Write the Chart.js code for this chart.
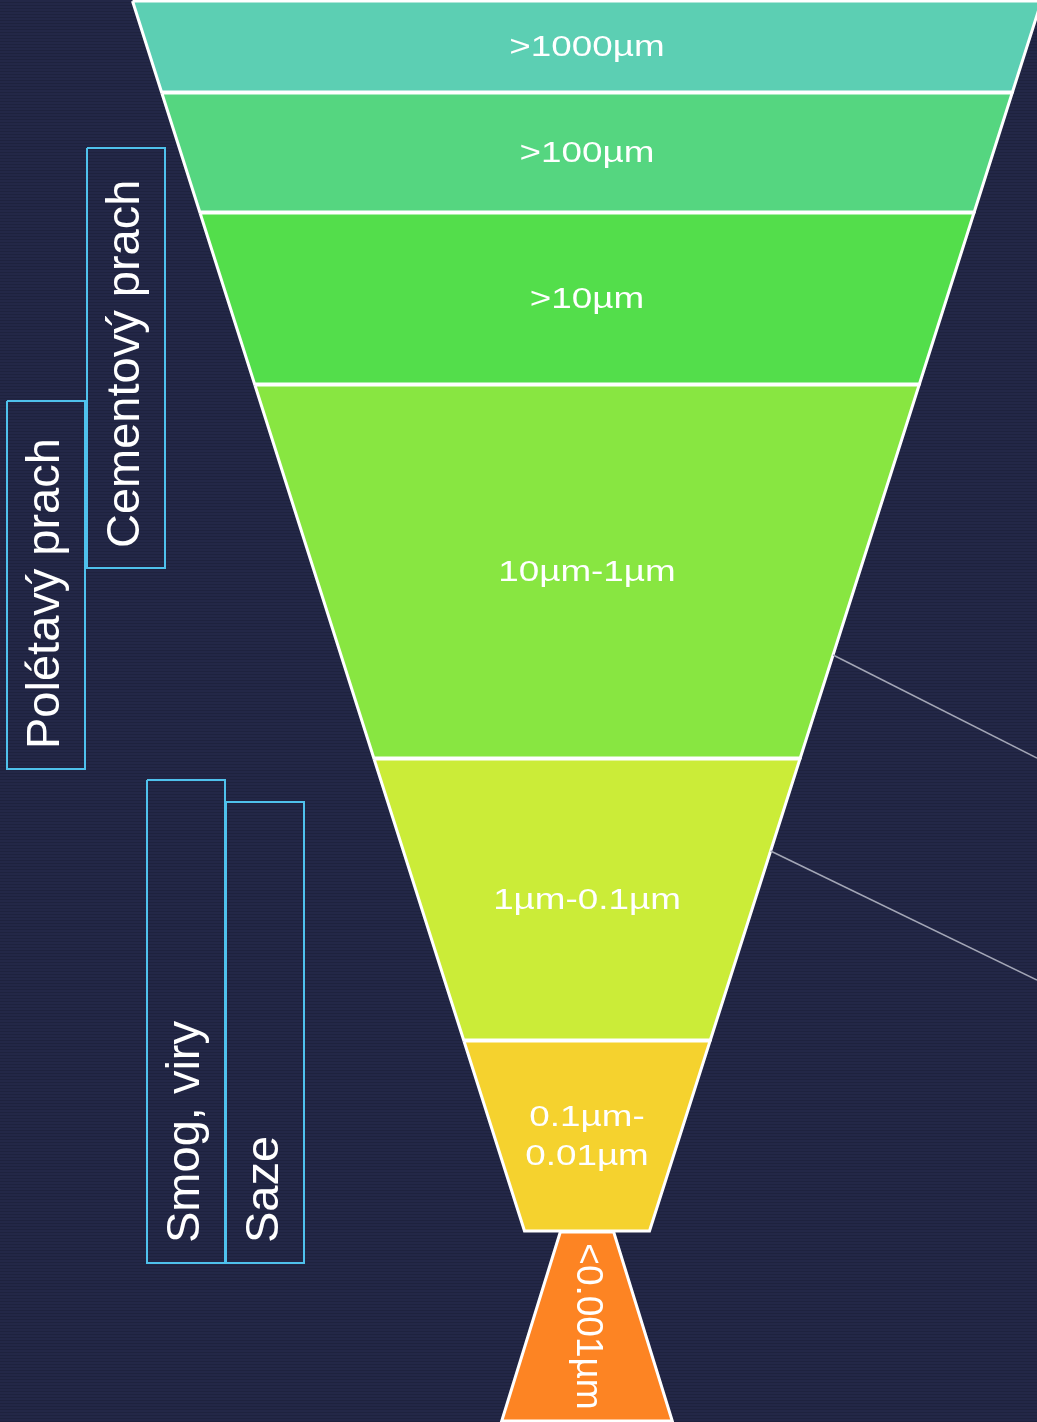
<!DOCTYPE html>
<html>
<head>
<meta charset="utf-8">
<title>Velikost částic prachu</title>
<script src="https://cdn.jsdelivr.net/npm/chart.js@4.4.1/dist/chart.umd.min.js"></script>
<style>
  html, body { margin: 0; padding: 0; overflow: hidden; }
  body {
    width: 1037px;
    height: 1422px;
    background: repeating-linear-gradient(to bottom, #232747 0px, #232747 2px, #1e223e 2px, #1e223e 3px);
  }
  #wrap { position: relative; width: 1037px; height: 1422px; }
</style>
</head>
<body>
<div id="wrap"><canvas id="funnelChart"></canvas></div>
<script>
// velikostni tridy castic (od nejvetsich po nejmensi)
const sizeClasses = ['>1000µm', '>100µm', '>10µm', '10µm-1µm', '1µm-0.1µm', ['0.1µm-', '0.01µm'], '<0.001µm'];
// vyska jednotlivych vrstev trychtyre
const sliceValues = [92, 120, 172, 374, 282, 191, 190];
const sliceColors = ['#5ccfb3', '#55d680', '#53de4b', '#88e641', '#cbec38', '#f5d22e', '#fd8423'];

// skupiny castic a rozsah na ose trychtyre
const groupLabels = ['Polétavý prach', 'Cementový prach', 'Smog, viry', 'Saze'];
const groupFrom = [401, 148, 780, 802];
const groupTo = [769, 568, 1263, 1263];

// spojovaci cary vpravo (odkud -> kam na ose)
const connectorFrom = [655, 851];
const connectorTo = [758, 980];

// --- rozlozeni ---
const X_MIN = -587, X_MAX = 450;
const groupColumns = [-580, -500, -440, -361]; // leve okraje ramecku
const groupWidth = 78;
const lastIdx = sliceValues.length - 1;

function funnelHalf(v) { return 62.5 + (1231 - v) * 0.3187; }
function tailHalf(v) { return 27 + (v - 1233) * 0.31; }

let pos = 1;
const sliceBounds = sliceValues.map(v => {
    const b = [pos, pos + v - 1];
    pos += v;
    return b;
});

const datasets = [];

// spojovaci cary
connectorFrom.forEach((v, i) => {
    datasets.push({
        data: [{x: funnelHalf(v), y: v}, {x: X_MAX, y: connectorTo[i]}],
        showLine: true,
        borderColor: '#a3a6b6',
        borderWidth: 1.5,
        pointRadius: 0,
        fill: false
    });
});

// vrstvy trychtyre
sliceBounds.forEach((b, i) => {
    const half = i === lastIdx ? tailHalf : funnelHalf;
    const top = half(b[0]);
    const bot = half(b[1]);
    datasets.push({
        data: [
            {x: -top, y: b[0]}, {x: top, y: b[0]},
            {x: bot, y: b[1]}, {x: -bot, y: b[1]},
            {x: -top, y: b[0]}
        ],
        showLine: true,
        fill: 'shape',
        backgroundColor: sliceColors[i],
        borderColor: '#ffffff',
        borderWidth: 3,
        borderJoinStyle: 'miter',
        pointRadius: 0,
        tension: 0
    });
});

// ramecky skupin
groupLabels.forEach((g, i) => {
    const l = groupColumns[i], r = l + groupWidth;
    datasets.push({
        data: [
            {x: l, y: groupFrom[i]}, {x: r, y: groupFrom[i]},
            {x: r, y: groupTo[i]}, {x: l, y: groupTo[i]},
            {x: l, y: groupFrom[i]}
        ],
        showLine: true,
        fill: false,
        borderColor: '#4fc1ec',
        borderWidth: 2,
        borderJoinStyle: 'miter',
        pointRadius: 0
    });
});

const textPlugin = {
    id: 'funnelText',
    afterDatasetsDraw(chart) {
        const {ctx, scales: {x, y}} = chart;
        ctx.save();
        ctx.fillStyle = '#ffffff';
        ctx.textBaseline = 'middle';

        // popisky vrstev
        sliceBounds.forEach((b, i) => {
            const cx = x.getPixelForValue(0);
            const cy = y.getPixelForValue((b[0] + b[1]) / 2);
            const text = sizeClasses[i];
            if (i === lastIdx) {
                ctx.save();
                ctx.font = '37px "Liberation Sans", Arial, sans-serif';
                ctx.textAlign = 'center';
                ctx.translate(cx, cy);
                ctx.rotate(Math.PI / 2);
                ctx.fillText(text, 0, 0);
                ctx.restore();
                return;
            }
            const lines = Array.isArray(text) ? text : [text];
            ctx.font = '29px "Liberation Sans", Arial, sans-serif';
            ctx.textAlign = 'center';
            lines.forEach((line, k) => {
                const ly = cy + 1 + (k - (lines.length - 1) / 2) * 39;
                ctx.save();
                ctx.translate(cx, ly);
                ctx.scale(1.27, 1);
                ctx.fillText(line, 0, 0);
                ctx.restore();
            });
        });

        // popisky skupin
        ctx.font = '47px "Liberation Sans", Arial, sans-serif';
        ctx.textAlign = 'left';
        groupLabels.forEach((g, i) => {
            const gx = x.getPixelForValue(groupColumns[i] + groupWidth / 2);
            const gy = y.getPixelForValue(groupTo[i]) - 20;
            ctx.save();
            ctx.translate(gx, gy);
            ctx.rotate(-Math.PI / 2);
            ctx.fillText(g, 0, 0);
            ctx.restore();
        });
        ctx.restore();
    }
};

const chart = new Chart(document.getElementById('funnelChart'), {
    type: 'scatter',
    data: { datasets: datasets },
    options: {
        responsive: true,
        maintainAspectRatio: false,
        animation: false,
        layout: { padding: 0 },
        scales: {
            x: { type: 'linear', min: X_MIN, max: X_MAX, display: false },
            y: { type: 'linear', min: 0, max: 1422, reverse: true, display: false }
        },
        plugins: {
            legend: { display: false },
            tooltip: { enabled: false }
        }
    },
    plugins: [textPlugin]
});
</script>
</body>
</html>
